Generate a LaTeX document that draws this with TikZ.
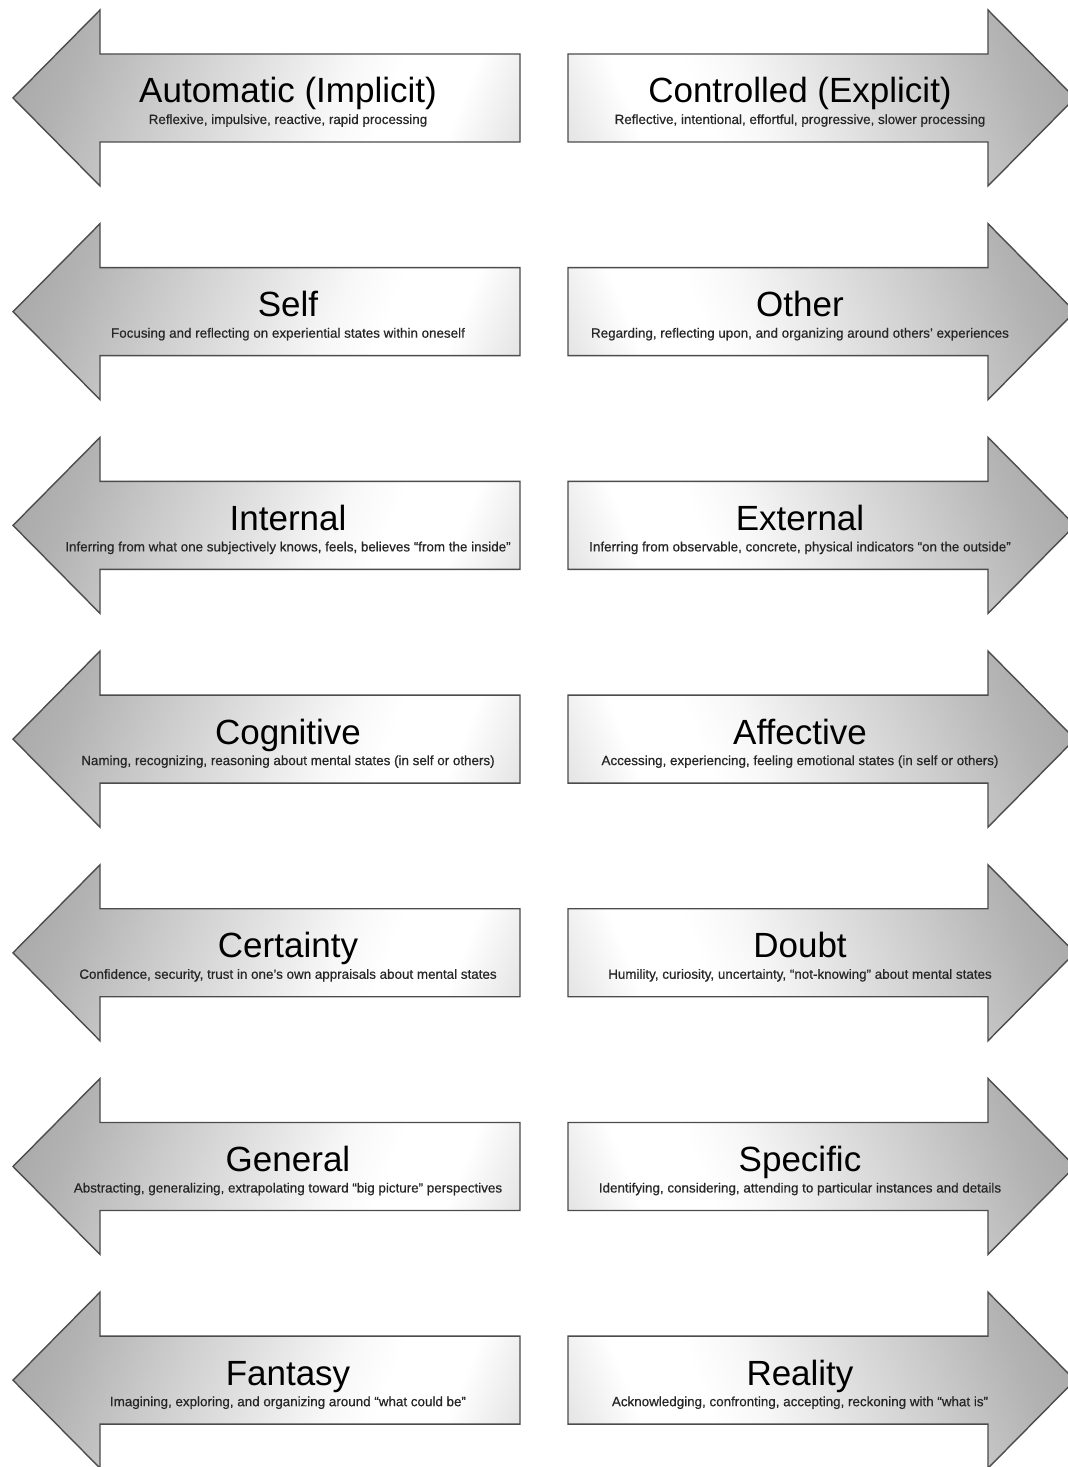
\documentclass[tikz,border=0pt]{standalone}
\usepackage{fontspec}
\setmainfont{Liberation Sans}
\newfontfamily\subfont[FakeBold=0.5]{Liberation Sans}

% gradients of the two arrow directions (bounding box maps to 25bp..75bp,
% widened to about 17bp..83bp once the shading is turned)
\pgfdeclarehorizontalshading{leftshade}{100bp}{%
  color(0bp)=(black!34); color(20bp)=(black!34); color(27bp)=(black!30);
  color(37bp)=(black!21); color(50bp)=(black!10); color(58bp)=(black!3);
  color(64bp)=(white); color(72bp)=(white); color(80bp)=(black!10);
  color(100bp)=(black!12)}
\pgfdeclarehorizontalshading{rightshade}{100bp}{%
  color(0bp)=(black!12); color(20bp)=(black!10); color(28bp)=(white);
  color(36bp)=(white); color(42bp)=(black!3); color(50bp)=(black!10);
  color(63bp)=(black!21); color(73bp)=(black!30); color(80bp)=(black!34);
  color(100bp)=(black!34)}

\tikzset{
  arrowshape/.style={draw=black!70, line width=1.4pt, line join=miter},
  leftarrow/.style={arrowshape, shading=leftshade, shading angle=-22},
  rightarrow/.style={arrowshape, shading=rightshade, shading angle=22},
  titletext/.style={anchor=base, inner sep=0pt, font=\fontsize{35}{40}\selectfont},
  subtext/.style={anchor=base, inner sep=0pt, text=black!85,
    font=\subfont\fontsize{13.4}{15}\selectfont},
}

% one row: left arrow and right arrow, centred at height #1
\newcommand\arrowpair[6]{%
  \path[leftarrow] (13,#1) -- (100,#1+88) -- (100,#1+44) -- (520,#1+44)
    -- (520,#1-44) -- (100,#1-44) -- (100,#1-88) -- cycle;
  \path[rightarrow] (1075,#1) -- (988,#1+88) -- (988,#1+44) -- (568,#1+44)
    -- (568,#1-44) -- (988,#1-44) -- (988,#1-88) -- cycle;
  \node[titletext] (lt#6) at (288,#1-5) {#2};
  \node[subtext]   (ls#6) at (288,#1-26) {#3};
  \node[titletext] (rt#6) at (800,#1-5) {#4};
  \node[subtext]   (rs#6) at (800,#1-26) {#5};
}

\begin{document}
\begin{tikzpicture}[x=1pt,y=1pt]
\fill[white] (0,0) rectangle (1068,1467);
\useasboundingbox (0,0) rectangle (1068,1467);

\arrowpair{1369}{Automatic (Implicit)}{Reflexive, impulsive, reactive, rapid processing}
  {Controlled (Explicit)}{Reflective, intentional, effortful, progressive, slower processing}{a}
\arrowpair{1155.3}{Self}{Focusing and reflecting on experiential states within oneself}
  {Other}{Regarding, reflecting upon, and organizing around others’ experiences}{b}
\arrowpair{941.6}{Internal}{Inferring from what one subjectively knows, feels, believes “from the inside”}
  {External}{Inferring from observable, concrete, physical indicators “on the outside”}{c}
\arrowpair{727.9}{Cognitive}{Naming, recognizing, reasoning about mental states (in self or others)}
  {Affective}{Accessing, experiencing, feeling emotional states (in self or others)}{d}
\arrowpair{514.2}{Certainty}{Confidence, security, trust in one’s own appraisals about mental states}
  {Doubt}{Humility, curiosity, uncertainty, “not-knowing” about mental states}{e}
\arrowpair{300.5}{General}{Abstracting, generalizing, extrapolating toward “big picture” perspectives}
  {Specific}{Identifying, considering, attending to particular instances and details}{f}
\arrowpair{86.8}{Fantasy}{Imagining, exploring, and organizing around “what could be”}
  {Reality}{Acknowledging, confronting, accepting, reckoning with “what is”}{g}
\end{tikzpicture}
\end{document}
